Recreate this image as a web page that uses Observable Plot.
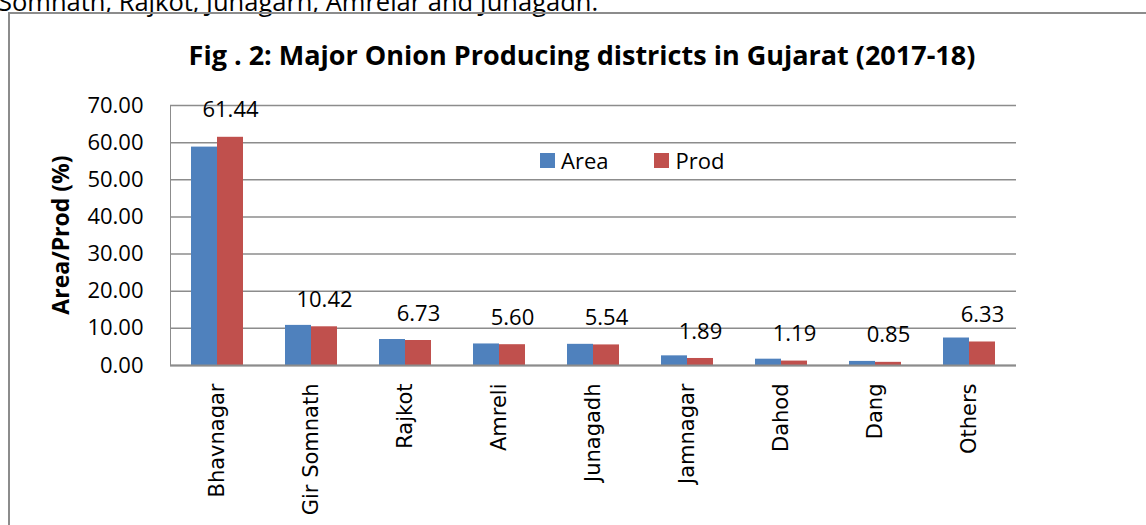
<!DOCTYPE html>
<html>
<head>
<meta charset="utf-8">
<script src="https://cdn.jsdelivr.net/npm/d3@7"></script>
<script src="https://cdn.jsdelivr.net/npm/@observablehq/plot@0.6"></script>
<style>
  html, body { margin: 0; padding: 0; background: #fff; }
  #wrap { position: relative; width: 1146px; height: 525px; overflow: hidden; background: #fff; font-family: "Open Sans", Lato, sans-serif; color: #000; }
  #doc { position: absolute; left: -2px; top: -14px; font-size: 25.5px; line-height: 30px; white-space: nowrap; }
  #border { position: absolute; left: 8px; top: 12px; width: 1300px; height: 700px; border-left: 2px solid #8c8c8c; border-top: 2px solid #8c8c8c; }
  #chart { position: absolute; left: 0; top: 0; }
  #title { position: absolute; left: 582px; top: 38px; transform: translateX(-50%); font-weight: bold; font-size: 27px; line-height: 34px; white-space: nowrap; }
  #ylabel { position: absolute; left: 60px; top: 235px; transform: translate(-50%, -50%) rotate(-90deg); font-weight: bold; font-size: 23px; line-height: 26px; white-space: nowrap; }
  #legend { position: absolute; left: 540px; top: 145px; display: flex; align-items: center; font-size: 22px; line-height: 30px; }
  .item { display: flex; align-items: center; margin-right: 46px; }
  .sw { width: 15px; height: 15px; margin-right: 6px; }
</style>
</head>
<body>
<div id="wrap">
  <div id="doc">Somnath, Rajkot, Junagarh, Amrelar and Junagadh.</div>
  <div id="border"></div>
  <div id="chart"></div>
  <div id="title">Fig . 2: Major Onion Producing districts in Gujarat (2017-18)</div>
  <div id="ylabel">Area/Prod (%)</div>
  <div id="legend"></div>
</div>
<script>
const districts = ["Bhavnagar", "Gir Somnath", "Rajkot", "Amreli", "Junagadh", "Jamnagar", "Dahod", "Dang", "Others"];
const areaShare = [58.8, 10.8, 7.0, 5.8, 5.7, 2.6, 1.7, 1.1, 7.4];
const prodShare = [61.44, 10.42, 6.73, 5.60, 5.54, 1.89, 1.19, 0.85, 6.33];
const seriesNames = ["Area", "Prod"];
const seriesColors = ["#4F81BD", "#C0504D"];
const yTicks = [0, 10, 20, 30, 40, 50, 60, 70];

const rows = [];
districts.forEach((d, i) => {
  rows.push({district: d, series: "Area", value: areaShare[i]});
  rows.push({district: d, series: "Prod", value: prodShare[i]});
});

const fmt = d3.format(".2f");
const grid = "#8c8c8c";

const chart = Plot.plot({
  width: 1146,
  height: 525,
  marginLeft: 168,
  marginRight: 128,
  marginTop: 105,
  marginBottom: 160,
  style: {fontFamily: "'Open Sans', sans-serif", fontSize: "22px", background: "transparent", color: grid, overflow: "visible"},
  facet: {data: rows, x: "district"},
  fx: {domain: districts, padding: 0, tickRotate: -90, tickSize: 0, tickPadding: 18, label: null},
  x: {domain: seriesNames, paddingInner: 0, paddingOuter: 0.75, axis: null},
  y: {domain: [0, 70], ticks: yTicks, tickFormat: fmt, tickSize: 0, tickPadding: 27, label: null, line: true},
  color: {domain: seriesNames, range: seriesColors},
  marks: [
    Plot.ruleY(yTicks, {stroke: grid, strokeWidth: 1.5}),
    Plot.barY(rows, {x: "series", y: "value", fill: "series"}),
    Plot.text(rows, {filter: d => d.series === "Prod", x: "series", y: "value", text: d => fmt(d.value), dy: -27, fill: "#000", fontSize: 22, fontFamily: "'Open Sans', sans-serif"}),
    Plot.ruleY([0], {stroke: grid, strokeWidth: 2})
  ]
});
document.getElementById("chart").appendChild(chart);

// text styling: district labels in DejaVu Sans, all labels black
chart.querySelectorAll("text").forEach(t => {
  t.setAttribute("fill", "#000");
  if (districts.includes(t.textContent)) {
    t.style.fontFamily = "'DejaVu Sans', sans-serif";
    t.style.fontSize = "21px";
  } else {
    t.style.fontFamily = "'Open Sans', sans-serif";
    t.style.fontSize = "22px";
  }
});
chart.querySelectorAll('[aria-label^="y-axis"] path, [aria-label^="y-axis"] line').forEach(p => {
  p.setAttribute("stroke", grid);
  p.setAttribute("stroke-width", "2");
});

const legend = document.getElementById("legend");
seriesNames.forEach((s, i) => {
  const item = document.createElement("div");
  item.className = "item";
  const sw = document.createElement("div");
  sw.className = "sw";
  sw.style.background = seriesColors[i];
  const lab = document.createElement("span");
  lab.textContent = s;
  item.appendChild(sw);
  item.appendChild(lab);
  legend.appendChild(item);
});
</script>
</body>
</html>
